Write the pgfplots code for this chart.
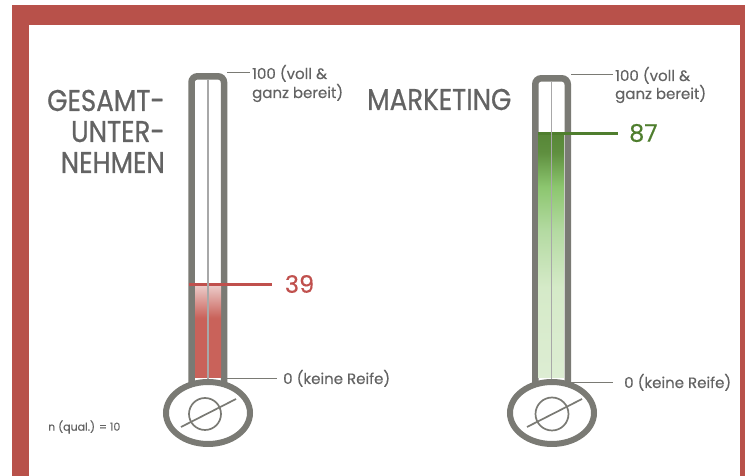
\documentclass[border=0pt]{standalone}
\usepackage{pgfplots}
\pgfplotsset{compat=1.18}
\usepackage{fontspec}
\setmainfont{Poppins}
\newfontfamily\tfont[FakeStretch=0.87, FakeBold=0.7]{Poppins}
\newfontfamily\lfont[FakeBold=0.3]{Poppins}
\definecolor{frame}{HTML}{B8514A}
\definecolor{tube}{HTML}{7A7A74}
\definecolor{cline}{HTML}{A8A8A8}
\definecolor{txt}{HTML}{636363}
\definecolor{vred}{HTML}{C0504D}
\definecolor{vgreen}{HTML}{4F7E2E}
\definecolor{fred}{HTML}{C9625A}
\definecolor{fpink}{HTML}{EDD0CE}
\definecolor{ga}{HTML}{DDEDD3}
\definecolor{gb}{HTML}{D5EAC8}
\definecolor{gc}{HTML}{B4DAA2}
\definecolor{gd}{HTML}{8CC66F}
\definecolor{ge}{HTML}{5F8F3F}
\definecolor{gf}{HTML}{578637}
\pgfdeclareverticalshading{redfill}{100bp}{color(0bp)=(fred); color(25bp)=(fred); color(57bp)=(fred); color(75bp)=(fpink); color(100bp)=(fpink)}
\pgfdeclareverticalshading{greenfill}{100bp}{color(0bp)=(ga); color(25bp)=(ga); color(43.5bp)=(gb); color(55bp)=(gc); color(64bp)=(gd); color(71bp)=(ge); color(75bp)=(gf); color(100bp)=(gf)}
\begin{document}
\begin{tikzpicture}[x=1pt,y=1pt]
\path[use as bounding box] (0,0) rectangle (745,476);
\fill[white] (0,0) rectangle (745,476);
\fill[frame] (12,0) rectangle (745,471);
\fill[white] (29,0) rectangle (740,451);
% tubes
\draw[tube, line width=6.5pt, rounded corners=6pt] (191.5,84) -- (191.5,399.7) -- (224,399.7) -- (224,84);
\draw[tube, line width=6.5pt, rounded corners=6pt] (535.25,84) -- (535.25,397.7) -- (567.75,397.7) -- (567.75,84);
% bulbs
\draw[tube, line width=6pt, fill=white] (208,63) ellipse [x radius=42, y radius=31];
\draw[tube, line width=6pt, fill=white] (552,63) ellipse [x radius=42, y radius=31];
\draw[tube, line width=1.7pt] (205,62) circle [radius=16];
\draw[tube, line width=1.7pt] (181,49) -- (236,77);
\draw[tube, line width=1.7pt] (552,62) circle [radius=16.5];
\draw[tube, line width=1.7pt] (527,49) -- (582,77);
% left axis
\begin{axis}[at={(195pt,98pt)}, anchor=south west, scale only axis, width=26pt, height=241pt,
  xmin=0, xmax=1, ymin=0, ymax=100, hide axis, clip=false]
\addplot[draw=none, shading=redfill] coordinates {(0,39) (1,39)} \closedcycle;
\addplot[vred, line width=3pt, mark=none] coordinates {(-0.23,39) (2.96,39)};
\node[anchor=west, text=vred, font=\lfont\fontsize{24}{28}\selectfont, inner sep=0pt] at (axis cs:3.45,39) {39};
\end{axis}
% right axis
\begin{axis}[at={(538pt,98pt)}, anchor=south west, scale only axis, width=26pt, height=281.6pt,
  xmin=0, xmax=1, ymin=0, ymax=100, hide axis, clip=false]
\addplot[draw=none, shading=greenfill] coordinates {(0,87) (1,87)} \closedcycle;
\addplot[vgreen, line width=3pt, mark=none] coordinates {(0,87) (3.08,87)};
\node[anchor=west, text=vgreen, font=\lfont\fontsize{24}{28}\selectfont, inner sep=0pt] at (axis cs:3.5,87) {87};
\end{axis}
% center lines
\draw[cline, line width=1.6pt] (208,396) -- (208,97);
\draw[cline, line width=1.6pt] (551.5,394) -- (551.5,97);
% scale labels
\draw[tube, line width=1pt] (227,403) -- (250,403);
\draw[tube, line width=1pt] (227,97) -- (277,97);
\draw[tube, line width=1pt] (571,401) -- (613,401);
\draw[tube, line width=1pt] (571,93) -- (613,93);
\begin{scope}[every node/.style={inner sep=0pt, text=txt, font=\lfont\fontsize{15}{18}\selectfont}]
\node[anchor=base west] at (252,397) {100 (voll \&};
\node[anchor=base west] at (252,378) {ganz bereit)};
\node[anchor=base west] at (283,92) {0 (keine Reife)};
\node[anchor=base west] at (615,395) {100 (voll \&};
\node[anchor=base west] at (615,377) {ganz bereit)};
\node[anchor=base west] at (624,88) {0 (keine Reife)};
\node[anchor=west, font=\lfont\fontsize{11}{13}\selectfont] at (48,49) {n (qual.) = 10};
\end{scope}
% titles
\begin{scope}[every node/.style={inner sep=0pt, text=txt, font=\tfont\fontsize{30}{33}\selectfont}]
\node[anchor=base east] at (165,365) {GESAMT-};
\node[anchor=base east] at (165,334) {UNTER-};
\node[anchor=base east] at (165,303) {NEHMEN};
\node[anchor=base west] at (367,366) {MARKETING};
\end{scope}
\end{tikzpicture}
\end{document}
